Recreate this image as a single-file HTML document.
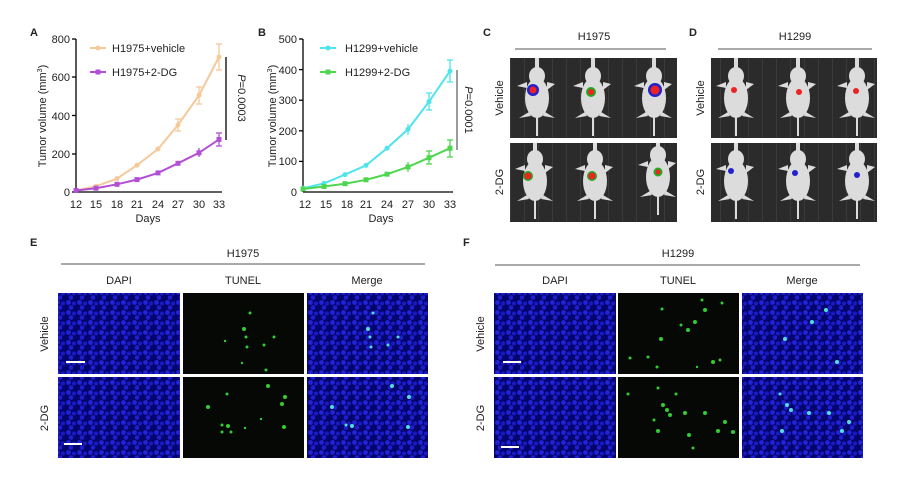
<!DOCTYPE html>
<html><head><meta charset="utf-8"><style>
html,body{margin:0;padding:0;background:#fff;}
svg{display:block;font-family:"Liberation Sans",Arial,sans-serif;}
</style></head><body>
<svg width="903" height="493" viewBox="0 0 903 493" xmlns="http://www.w3.org/2000/svg">
<defs>
<pattern id="nuc" width="11" height="10" patternUnits="userSpaceOnUse">
<rect width="11" height="10" fill="#05056e"/>
<circle cx="2.5" cy="2.5" r="2.4" fill="#2222d8"/>
<circle cx="8" cy="3.5" r="2" fill="#1a1ac4"/>
<circle cx="5" cy="7.5" r="2.3" fill="#1e1ed0"/>
</pattern>
<pattern id="bg" width="14" height="80" patternUnits="userSpaceOnUse">
<rect width="14" height="80" fill="#2b2b2b"/>
<rect x="6" width="1" height="80" fill="#3a3a3a"/>
</pattern>
<g id="mouse" fill="#dcdcdc">
<rect x="-2" y="-40" width="4" height="14"/>
<ellipse cx="0" cy="-20" rx="8" ry="9"/>
<ellipse cx="0" cy="2" rx="12" ry="20"/>
<rect x="-1" y="18" width="2" height="22"/>
<path d="M-10,-14 L-20,-10 L-10,-8Z M10,-14 L18,-12 L10,-6Z M-8,16 L-18,22 L-6,20Z M8,16 L18,22 L6,20Z"/>
</g>
</defs>
<g font-size="11" fill="#222">
<!-- Panel A -->
<text x="30" y="36" font-weight="bold" font-size="11">A</text>
<g stroke="#000" stroke-width="1.3" fill="none">
<line x1="76" y1="39" x2="76" y2="192"/><line x1="76" y1="192" x2="222" y2="192"/>
<line x1="72" y1="39" x2="76" y2="39"/><line x1="72" y1="77" x2="76" y2="77"/><line x1="72" y1="115.5" x2="76" y2="115.5"/><line x1="72" y1="154" x2="76" y2="154"/><line x1="72" y1="192" x2="76" y2="192"/>
<line x1="226" y1="57" x2="226" y2="140"/>
</g>
<g font-size="11" text-anchor="end"><text x="70" y="43">800</text><text x="70" y="81">600</text><text x="70" y="120">400</text><text x="70" y="158">200</text><text x="70" y="196">0</text></g>
<g font-size="11" text-anchor="middle"><text x="76" y="208">12</text><text x="96" y="208">15</text><text x="117" y="208">18</text><text x="137" y="208">21</text><text x="158" y="208">24</text><text x="178" y="208">27</text><text x="199" y="208">30</text><text x="219" y="208">33</text><text x="148" y="222">Days</text></g>
<text transform="translate(46,116) rotate(-90)" text-anchor="middle" font-size="11">Tumor volume (mm<tspan font-size="7" dy="-4">3</tspan><tspan dy="4">)</tspan></text>
<text transform="translate(238,98) rotate(90)" text-anchor="middle" font-size="11"><tspan font-style="italic">P</tspan>=0.0003</text>
<polyline fill="none" stroke="#f5c99a" stroke-width="2" points="76,190.5 96,186.3 117,178.6 137,165.2 158,149 178,125 199,95.3 219,57"/>
<g stroke="#f5c99a" stroke-width="1.3"><line x1="219" y1="44" x2="219" y2="70"/><line x1="216" y1="44" x2="222" y2="44"/><line x1="216" y1="70" x2="222" y2="70"/><line x1="199" y1="87" x2="199" y2="104"/><line x1="196" y1="87" x2="202" y2="87"/><line x1="196" y1="104" x2="202" y2="104"/><line x1="178" y1="119" x2="178" y2="131"/><line x1="175" y1="119" x2="181" y2="119"/><line x1="175" y1="131" x2="181" y2="131"/></g>
<g fill="#f5c99a"><circle cx="76" cy="190.5" r="2.5"/><circle cx="96" cy="186.3" r="2.5"/><circle cx="117" cy="178.6" r="2.5"/><circle cx="137" cy="165.2" r="2.5"/><circle cx="158" cy="149" r="2.5"/><circle cx="178" cy="125" r="2.5"/><circle cx="199" cy="95.3" r="2.5"/><circle cx="219" cy="57" r="2.5"/></g>
<polyline fill="none" stroke="#b34fd6" stroke-width="2" points="76,190.5 96,188.2 117,184.3 137,179.6 158,172.9 178,163.3 199,152.8 219,139.4"/>
<g stroke="#b34fd6" stroke-width="1.3"><line x1="219" y1="133" x2="219" y2="146"/><line x1="216" y1="133" x2="222" y2="133"/><line x1="216" y1="146" x2="222" y2="146"/><line x1="199" y1="148" x2="199" y2="157"/></g>
<g fill="#b34fd6"><rect x="73.5" y="188" width="5" height="5"/><rect x="93.5" y="185.7" width="5" height="5"/><rect x="114.5" y="181.8" width="5" height="5"/><rect x="134.5" y="177.1" width="5" height="5"/><rect x="155.5" y="170.4" width="5" height="5"/><rect x="175.5" y="160.8" width="5" height="5"/><rect x="196.5" y="150.3" width="5" height="5"/><rect x="216.5" y="136.9" width="5" height="5"/></g>
<line x1="90" y1="48" x2="106" y2="48" stroke="#f5c99a" stroke-width="2"/><circle cx="98" cy="48" r="2.5" fill="#f5c99a"/>
<text x="112" y="52">H1975+vehicle</text>
<line x1="90" y1="72" x2="106" y2="72" stroke="#b34fd6" stroke-width="2"/><rect x="95.5" y="69.5" width="5" height="5" fill="#b34fd6"/>
<text x="112" y="76">H1975+2-DG</text>

<!-- Panel B -->
<text x="258" y="36" font-weight="bold" font-size="11">B</text>
<g stroke="#000" stroke-width="1.3" fill="none">
<line x1="303" y1="39" x2="303" y2="192"/><line x1="303" y1="192" x2="453" y2="192"/>
<line x1="299" y1="39" x2="303" y2="39"/><line x1="299" y1="69.6" x2="303" y2="69.6"/><line x1="299" y1="100.2" x2="303" y2="100.2"/><line x1="299" y1="130.8" x2="303" y2="130.8"/><line x1="299" y1="161.4" x2="303" y2="161.4"/>
</g>
<line x1="457" y1="70" x2="457" y2="150" stroke="#666" stroke-width="1.3"/>
<g font-size="11" text-anchor="end"><text x="297" y="43">500</text><text x="297" y="74">400</text><text x="297" y="104">300</text><text x="297" y="135">200</text><text x="297" y="165">100</text><text x="297" y="196">0</text></g>
<g font-size="11" text-anchor="middle"><text x="305" y="208">12</text><text x="326" y="208">15</text><text x="347" y="208">18</text><text x="366" y="208">21</text><text x="387" y="208">24</text><text x="408" y="208">27</text><text x="429" y="208">30</text><text x="450" y="208">33</text><text x="381" y="222">Days</text></g>
<text transform="translate(276,116) rotate(-90)" text-anchor="middle" font-size="11">Tumor volume (mm<tspan font-size="7" dy="-4">3</tspan><tspan dy="4">)</tspan></text>
<text transform="translate(465,110) rotate(90)" text-anchor="middle" font-size="11"><tspan font-style="italic">P</tspan>=0.0001</text>
<polyline fill="none" stroke="#4fe3ee" stroke-width="2" points="303,188.3 324,183.4 345,174.6 366,165.4 387,148.2 408,129.3 429,101.7 450,71.1"/>
<g stroke="#4fe3ee" stroke-width="1.3"><line x1="450" y1="60" x2="450" y2="82"/><line x1="447" y1="60" x2="453" y2="60"/><line x1="447" y1="82" x2="453" y2="82"/><line x1="429" y1="93" x2="429" y2="110"/><line x1="426" y1="93" x2="432" y2="93"/><line x1="426" y1="110" x2="432" y2="110"/><line x1="408" y1="124" x2="408" y2="135"/></g>
<g fill="#4fe3ee"><circle cx="303" cy="188.3" r="2.5"/><circle cx="324" cy="183.4" r="2.5"/><circle cx="345" cy="174.6" r="2.5"/><circle cx="366" cy="165.4" r="2.5"/><circle cx="387" cy="148.2" r="2.5"/><circle cx="408" cy="129.3" r="2.5"/><circle cx="429" cy="101.7" r="2.5"/><circle cx="450" cy="71.1" r="2.5"/></g>
<polyline fill="none" stroke="#4fd64f" stroke-width="2" points="303,189 324,186.5 345,183.7 366,179.8 387,174.2 408,166.9 429,157.7 450,148.2"/>
<g stroke="#4fd64f" stroke-width="1.3"><line x1="450" y1="140" x2="450" y2="157"/><line x1="447" y1="140" x2="453" y2="140"/><line x1="447" y1="157" x2="453" y2="157"/><line x1="429" y1="151" x2="429" y2="164"/><line x1="426" y1="151" x2="432" y2="151"/><line x1="426" y1="164" x2="432" y2="164"/><line x1="408" y1="162" x2="408" y2="172"/></g>
<g fill="#4fd64f"><rect x="300.5" y="186.5" width="5" height="5"/><rect x="321.5" y="184" width="5" height="5"/><rect x="342.5" y="181.2" width="5" height="5"/><rect x="363.5" y="177.3" width="5" height="5"/><rect x="384.5" y="171.7" width="5" height="5"/><rect x="405.5" y="164.4" width="5" height="5"/><rect x="426.5" y="155.2" width="5" height="5"/><rect x="447.5" y="145.7" width="5" height="5"/></g>
<line x1="320" y1="48" x2="336" y2="48" stroke="#4fe3ee" stroke-width="2"/><circle cx="328" cy="48" r="2.5" fill="#4fe3ee"/>
<text x="345" y="52">H1299+vehicle</text>
<line x1="320" y1="72" x2="336" y2="72" stroke="#4fd64f" stroke-width="2"/><rect x="325.5" y="69.5" width="5" height="5" fill="#4fd64f"/>
<text x="345" y="76">H1299+2-DG</text>

<!-- Panel C -->
<text x="483" y="36" font-weight="bold">C</text>
<text x="594" y="40" text-anchor="middle">H1975</text>
<line x1="515" y1="49" x2="666" y2="49" stroke="#777" stroke-width="1.3"/>
<rect x="510" y="58" width="167" height="80" fill="url(#bg)"/>
<rect x="510" y="143" width="167" height="79" fill="url(#bg)"/>
<text transform="translate(503,98) rotate(-90)" text-anchor="middle">Vehicle</text>
<text transform="translate(503,182) rotate(-90)" text-anchor="middle">2-DG</text>
<svg x="510" y="58" width="167" height="80" overflow="hidden"><use href="#mouse" x="27" y="38"/><use href="#mouse" x="83" y="38"/><use href="#mouse" x="144" y="38"/></svg>
<svg x="510" y="143" width="167" height="79" overflow="hidden"><use href="#mouse" x="25" y="36"/><use href="#mouse" x="85" y="36"/><use href="#mouse" x="148" y="32"/></svg>
<g><circle cx="533" cy="90" r="6" fill="#22c"/><circle cx="533" cy="90" r="3.5" fill="#e22"/>
<circle cx="591" cy="92" r="5" fill="#2a2"/><circle cx="591" cy="92" r="3" fill="#e22"/>
<circle cx="655" cy="90" r="7" fill="#22c"/><circle cx="655" cy="90" r="4.5" fill="#e22"/>
<circle cx="528" cy="176" r="5" fill="#2a2"/><circle cx="528" cy="176" r="3.5" fill="#e22"/>
<circle cx="592" cy="176" r="5" fill="#2a2"/><circle cx="592" cy="176" r="3.5" fill="#e22"/>
<circle cx="658" cy="172" r="4.5" fill="#2a2"/><circle cx="658" cy="172" r="2.5" fill="#e22"/></g>

<!-- Panel D -->
<text x="689" y="36" font-weight="bold">D</text>
<text x="795" y="40" text-anchor="middle">H1299</text>
<line x1="718" y1="49" x2="872" y2="49" stroke="#777" stroke-width="1.3"/>
<rect x="711" y="58" width="166" height="80" fill="url(#bg)"/>
<rect x="711" y="143" width="166" height="79" fill="url(#bg)"/>
<text transform="translate(704,98) rotate(-90)" text-anchor="middle">Vehicle</text>
<text transform="translate(704,182) rotate(-90)" text-anchor="middle">2-DG</text>
<svg x="711" y="58" width="166" height="80" overflow="hidden"><use href="#mouse" x="25" y="38"/><use href="#mouse" x="87" y="38"/><use href="#mouse" x="146" y="38"/></svg>
<svg x="711" y="143" width="166" height="79" overflow="hidden"><use href="#mouse" x="25" y="36"/><use href="#mouse" x="87" y="36"/><use href="#mouse" x="146" y="36"/></svg>
<circle cx="734" cy="90" r="3" fill="#e22"/><circle cx="799" cy="92" r="3" fill="#e22"/><circle cx="856" cy="91" r="3" fill="#e22"/>
<circle cx="731" cy="171" r="3" fill="#22c"/><circle cx="795" cy="173" r="3" fill="#22c"/><circle cx="857" cy="175" r="3" fill="#22c"/>

<!-- Panel E -->
<text x="30" y="246" font-weight="bold">E</text>
<text x="243" y="257" text-anchor="middle">H1975</text>
<line x1="61" y1="264" x2="425" y2="264" stroke="#777" stroke-width="1.3"/>
<text x="119" y="284" text-anchor="middle">DAPI</text><text x="243" y="284" text-anchor="middle">TUNEL</text><text x="367" y="284" text-anchor="middle">Merge</text>
<text transform="translate(48,334) rotate(-90)" text-anchor="middle">Vehicle</text>
<text transform="translate(48,418) rotate(-90)" text-anchor="middle">2-DG</text>
<rect x="58" y="293" width="122" height="81" fill="url(#nuc)"/>
<rect x="58" y="377" width="122" height="81" fill="url(#nuc)"/>
<rect x="183" y="293" width="121" height="81" fill="#050805"/>
<rect x="183" y="377" width="121" height="81" fill="#050805"/>
<rect x="307" y="293" width="121" height="81" fill="url(#nuc)"/>
<rect x="307" y="377" width="121" height="81" fill="url(#nuc)"/>
<line x1="66" y1="362" x2="85" y2="362" stroke="#fff" stroke-width="2"/>
<line x1="64" y1="444" x2="82" y2="444" stroke="#fff" stroke-width="2"/>
<g fill="#3c3"><circle cx="250" cy="313" r="1.5"/><circle cx="244" cy="329" r="2"/><circle cx="246" cy="337" r="1.5"/><circle cx="274" cy="337" r="1.5"/><circle cx="247" cy="347" r="1.5"/><circle cx="264" cy="345" r="1.5"/><circle cx="225" cy="341" r="1.2"/><circle cx="242" cy="363" r="1.2"/><circle cx="266" cy="370" r="1.5"/>
<circle cx="268" cy="386" r="2"/><circle cx="227" cy="394" r="1.5"/><circle cx="285" cy="397" r="2"/><circle cx="282" cy="404" r="2"/><circle cx="208" cy="407" r="2"/><circle cx="228" cy="426" r="2"/><circle cx="222" cy="425" r="1.5"/><circle cx="231" cy="432" r="1.5"/><circle cx="222" cy="432" r="1.5"/><circle cx="284" cy="427" r="2"/><circle cx="245" cy="428" r="1.2"/><circle cx="261" cy="419" r="1.2"/></g>
<g fill="#5dd"><circle cx="373" cy="313" r="1.5"/><circle cx="368" cy="329" r="2"/><circle cx="370" cy="337" r="1.5"/><circle cx="398" cy="337" r="1.5"/><circle cx="371" cy="347" r="1.5"/><circle cx="388" cy="345" r="1.5"/><circle cx="392" cy="386" r="2"/><circle cx="409" cy="397" r="2"/><circle cx="332" cy="407" r="2"/><circle cx="352" cy="426" r="2"/><circle cx="346" cy="425" r="1.5"/><circle cx="408" cy="427" r="2"/></g>

<!-- Panel F -->
<text x="463" y="246" font-weight="bold">F</text>
<text x="678" y="257" text-anchor="middle">H1299</text>
<line x1="495" y1="265" x2="860" y2="265" stroke="#777" stroke-width="1.3"/>
<text x="555" y="284" text-anchor="middle">DAPI</text><text x="678" y="284" text-anchor="middle">TUNEL</text><text x="802" y="284" text-anchor="middle">Merge</text>
<text transform="translate(484,334) rotate(-90)" text-anchor="middle">Vehicle</text>
<text transform="translate(484,418) rotate(-90)" text-anchor="middle">2-DG</text>
<rect x="494" y="293" width="122" height="81" fill="url(#nuc)"/>
<rect x="494" y="377" width="122" height="81" fill="url(#nuc)"/>
<rect x="618" y="293" width="121" height="81" fill="#050805"/>
<rect x="618" y="377" width="121" height="81" fill="#050805"/>
<rect x="742" y="293" width="121" height="81" fill="url(#nuc)"/>
<rect x="742" y="377" width="121" height="81" fill="url(#nuc)"/>
<line x1="503" y1="362" x2="521" y2="362" stroke="#fff" stroke-width="2"/>
<line x1="501" y1="447" x2="519" y2="447" stroke="#fff" stroke-width="2"/>
<g fill="#3c3"><circle cx="702" cy="300" r="1.5"/><circle cx="705" cy="310" r="2"/><circle cx="722" cy="303" r="1.5"/><circle cx="662" cy="309" r="1.5"/><circle cx="695" cy="322" r="2"/><circle cx="681" cy="325" r="1.5"/><circle cx="688" cy="330" r="2"/><circle cx="661" cy="339" r="2"/><circle cx="630" cy="358" r="1.5"/><circle cx="648" cy="357" r="1.5"/><circle cx="657" cy="367" r="1.5"/><circle cx="713" cy="362" r="2"/><circle cx="720" cy="360" r="1.5"/><circle cx="697" cy="367" r="1.2"/>
<circle cx="658" cy="388" r="1.5"/><circle cx="628" cy="394" r="1.5"/><circle cx="676" cy="394" r="1.5"/><circle cx="663" cy="405" r="2"/><circle cx="667" cy="410" r="2"/><circle cx="670" cy="415" r="2"/><circle cx="685" cy="413" r="2"/><circle cx="705" cy="413" r="2"/><circle cx="725" cy="422" r="2"/><circle cx="733" cy="432" r="2"/><circle cx="718" cy="431" r="2"/><circle cx="658" cy="431" r="2"/><circle cx="689" cy="435" r="2"/><circle cx="654" cy="420" r="1.5"/><circle cx="693" cy="448" r="1.5"/></g>
<g fill="#5dd"><circle cx="826" cy="310" r="2"/><circle cx="812" cy="322" r="2"/><circle cx="785" cy="339" r="2"/><circle cx="780" cy="394" r="1.5"/><circle cx="787" cy="405" r="2"/><circle cx="791" cy="410" r="2"/><circle cx="809" cy="413" r="2"/><circle cx="829" cy="413" r="2"/><circle cx="849" cy="422" r="2"/><circle cx="842" cy="431" r="2"/><circle cx="782" cy="431" r="2"/><circle cx="837" cy="362" r="2"/></g>
</g>
</svg>
</body></html>
